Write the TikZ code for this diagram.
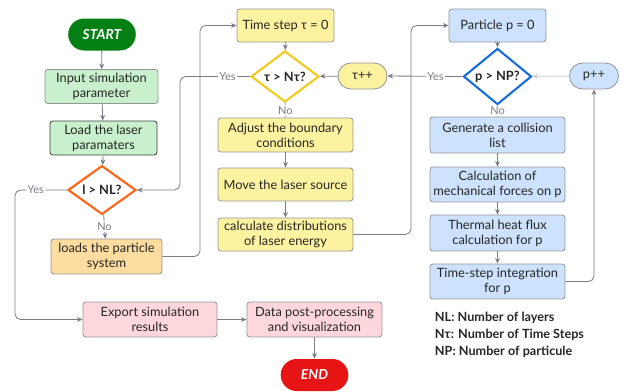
\documentclass[tikz,border=0pt]{standalone}
\usepackage{fontspec}
\setmainfont{Lato}
\usepackage{xcolor}
\usepackage{tikz}
\usetikzlibrary{shapes.geometric}
\usetikzlibrary{shapes.misc}
\usetikzlibrary{arrows.meta}

\definecolor{startgreen}{RGB}{5,128,20}
\definecolor{lightgreen}{RGB}{200,240,205}
\definecolor{diaorange}{RGB}{255,100,20}
\definecolor{lightorange}{RGB}{253,220,160}
\definecolor{lightpink}{RGB}{253,215,220}
\definecolor{endred}{RGB}{230,20,20}
\definecolor{lightyellow}{RGB}{253,242,160}
\definecolor{diayellow}{RGB}{245,200,30}
\definecolor{lightblue}{RGB}{205,226,252}
\definecolor{diablue}{RGB}{20,110,220}
\definecolor{linegray}{RGB}{120,125,135}
\definecolor{boxgray}{RGB}{150,150,150}

\begin{document}
\begin{tikzpicture}[x=0.025cm, y=-0.025cm,
        every node/.style={font=\fontsize{9.1}{10.5}\selectfont, text=black!85},
        procbox/.style={rectangle, rounded corners=2pt, draw=boxgray, line width=0.6pt,
            align=center, inner sep=1pt, minimum height=0.85cm},
        terminal/.style={rounded rectangle, draw=none, minimum width=1.925cm,
            minimum height=0.8cm, text=white, font=\fontsize{9.8}{11}\selectfont\bfseries\itshape},
        counter/.style={rounded rectangle, draw=boxgray, line width=0.6pt,
            minimum width=1.46cm, minimum height=0.65cm},
        decision/.style={diamond, fill=white, line width=1.5pt, inner sep=0pt,
            minimum width=1.7cm, minimum height=1.075cm, font=\fontsize{9.1}{10.5}\selectfont\bfseries},
        flow/.style={draw=linegray, line width=0.6pt, -{Stealth[length=4pt,width=3.5pt]}},
        answer/.style={fill=white, text=linegray, inner sep=1pt, font=\fontsize{7.8}{9}\selectfont}]
        \useasboundingbox (0,0) rectangle (641,391);

        % layer loop
        \node[terminal, fill=startgreen] (start) at (102,34.5) {START};
        \node[procbox, fill=lightgreen, minimum width=2.825cm] (input) at (101.5,86.5) {Input simulation\\parameter};
        \node[procbox, fill=lightgreen, draw=black!75, minimum width=2.675cm] (laser) at (103.5,138) {Load the laser\\paramaters};
        \node[decision, draw=diaorange] (layer) at (102,190) {l > NL?};
        \node[procbox, fill=lightorange, minimum width=2.775cm, minimum height=0.875cm] (loads) at (106.5,256.5) {loads the particle\\system};
        \node[procbox, fill=lightpink, minimum width=3.35cm, minimum height=0.875cm] (export) at (150,319.5) {Export simulation\\results};
        \node[procbox, fill=lightpink, minimum width=3.375cm, minimum height=0.875cm] (post) at (314.5,319.5) {Data post-processing\\and visualization};
        \node[terminal, fill=endred] (stop) at (314.5,375) {END};

        % time loop
        \node[procbox, fill=lightyellow, minimum width=2.425cm, minimum height=0.825cm] (tzero) at (285.5,25.5) {Time step τ = 0};
        \node[decision, draw=diayellow] (time) at (285,76.5) {τ > Nτ?};
        \node[counter, fill=lightyellow] (tinc) at (362.5,76) {τ++};
        \node[procbox, fill=lightyellow, minimum width=3.375cm] (bound) at (285.5,135) {Adjust the boundary\\conditions};
        \node[procbox, fill=lightyellow, minimum width=3.375cm, minimum height=0.825cm] (move) at (285.5,184.5) {Move the laser source};
        \node[procbox, fill=lightyellow, minimum width=3.375cm, minimum height=0.825cm] (energy) at (285.5,234.5) {calculate distributions\\of laser energy};

        % particle loop
        \node[procbox, fill=lightblue, minimum width=2.425cm, minimum height=0.825cm] (pzero) at (497.5,25.5) {Particle p = 0};
        \node[decision, draw=diablue] (part) at (497.5,76.5) {p > NP?};
        \node[counter, fill=lightblue] (pinc) at (594,76) {p++};
        \node[procbox, fill=lightblue, minimum width=3.375cm, minimum height=0.9cm] (collide) at (497.5,135) {Generate a collision\\list};
        \node[procbox, fill=lightblue, minimum width=3.375cm, minimum height=0.875cm] (mech) at (497.5,184.5) {Calculation of\\mechanical forces on p};
        \node[procbox, fill=lightblue, minimum width=3.375cm, minimum height=0.9cm] (heat) at (497.5,233) {Thermal heat flux\\calculation for p};
        \node[procbox, fill=lightblue, minimum width=3.375cm, minimum height=0.875cm] (integ) at (497.5,281.5) {Time-step integration\\for p};

        % legend
        \node[anchor=west, font=\fontsize{9}{10}\selectfont\bfseries] (legnl) at (430,318) {NL: Number of layers};
        \node[anchor=west, font=\fontsize{9}{10}\selectfont\bfseries] (legnt) at (430,335) {Nτ: Number of Time Steps};
        \node[anchor=west, font=\fontsize{9}{10}\selectfont\bfseries] (legnp) at (430,352) {NP: Number of particule};

        % return lanes
        \coordinate (laneA) at (15,0);
        \coordinate (laneB) at (200,0);
        \coordinate (laneC) at (180,0);
        \coordinate (laneD) at (411,0);

        \draw[flow] (start) -- (input);
        \draw[flow] (input) -- (laser);
        \draw[flow] (laser) -- (layer);
        \draw[flow] (layer) -- node[answer] {No} (loads);
        \draw[flow, rounded corners=4pt] (layer.west) -- node[answer, pos=0.6] {Yes} (layer.west -| laneA) |- (export.west);
        \draw[flow, rounded corners=4pt] (loads.east) -- (loads.east -| laneB) |- (tzero.west);
        \draw[flow] (export) -- (post);
        \draw[flow] (post) -- (stop);

        \draw[flow] (tzero) -- (time);
        \draw[flow] (time) -- node[answer] {No} (bound);
        \draw[flow] (bound) -- (move);
        \draw[flow] (move) -- (energy);
        \draw[flow, rounded corners=4pt] (time.west) -- node[answer, pos=0.32] {Yes} (time.west -| laneC) |- (layer.east);
        \draw[flow] (tinc) -- (time);
        \draw[flow, rounded corners=4pt] (energy.east) -- (energy.east -| laneD) |- (pzero.west);

        \draw[flow] (pzero) -- (part);
        \draw[flow] (part) -- node[answer] {No} (collide);
        \draw[flow] (collide) -- (mech);
        \draw[flow] (mech) -- (heat);
        \draw[flow] (heat) -- (integ);
        \draw[flow] (part.west) -- node[answer, pos=0.36] {Yes} (tinc.east);
        \draw[flow, rounded corners=4pt] (integ.east) -| (pinc.south);
        \draw[flow, draw=linegray!40] (pinc) -- (part);
        \end{tikzpicture}
\end{document}
